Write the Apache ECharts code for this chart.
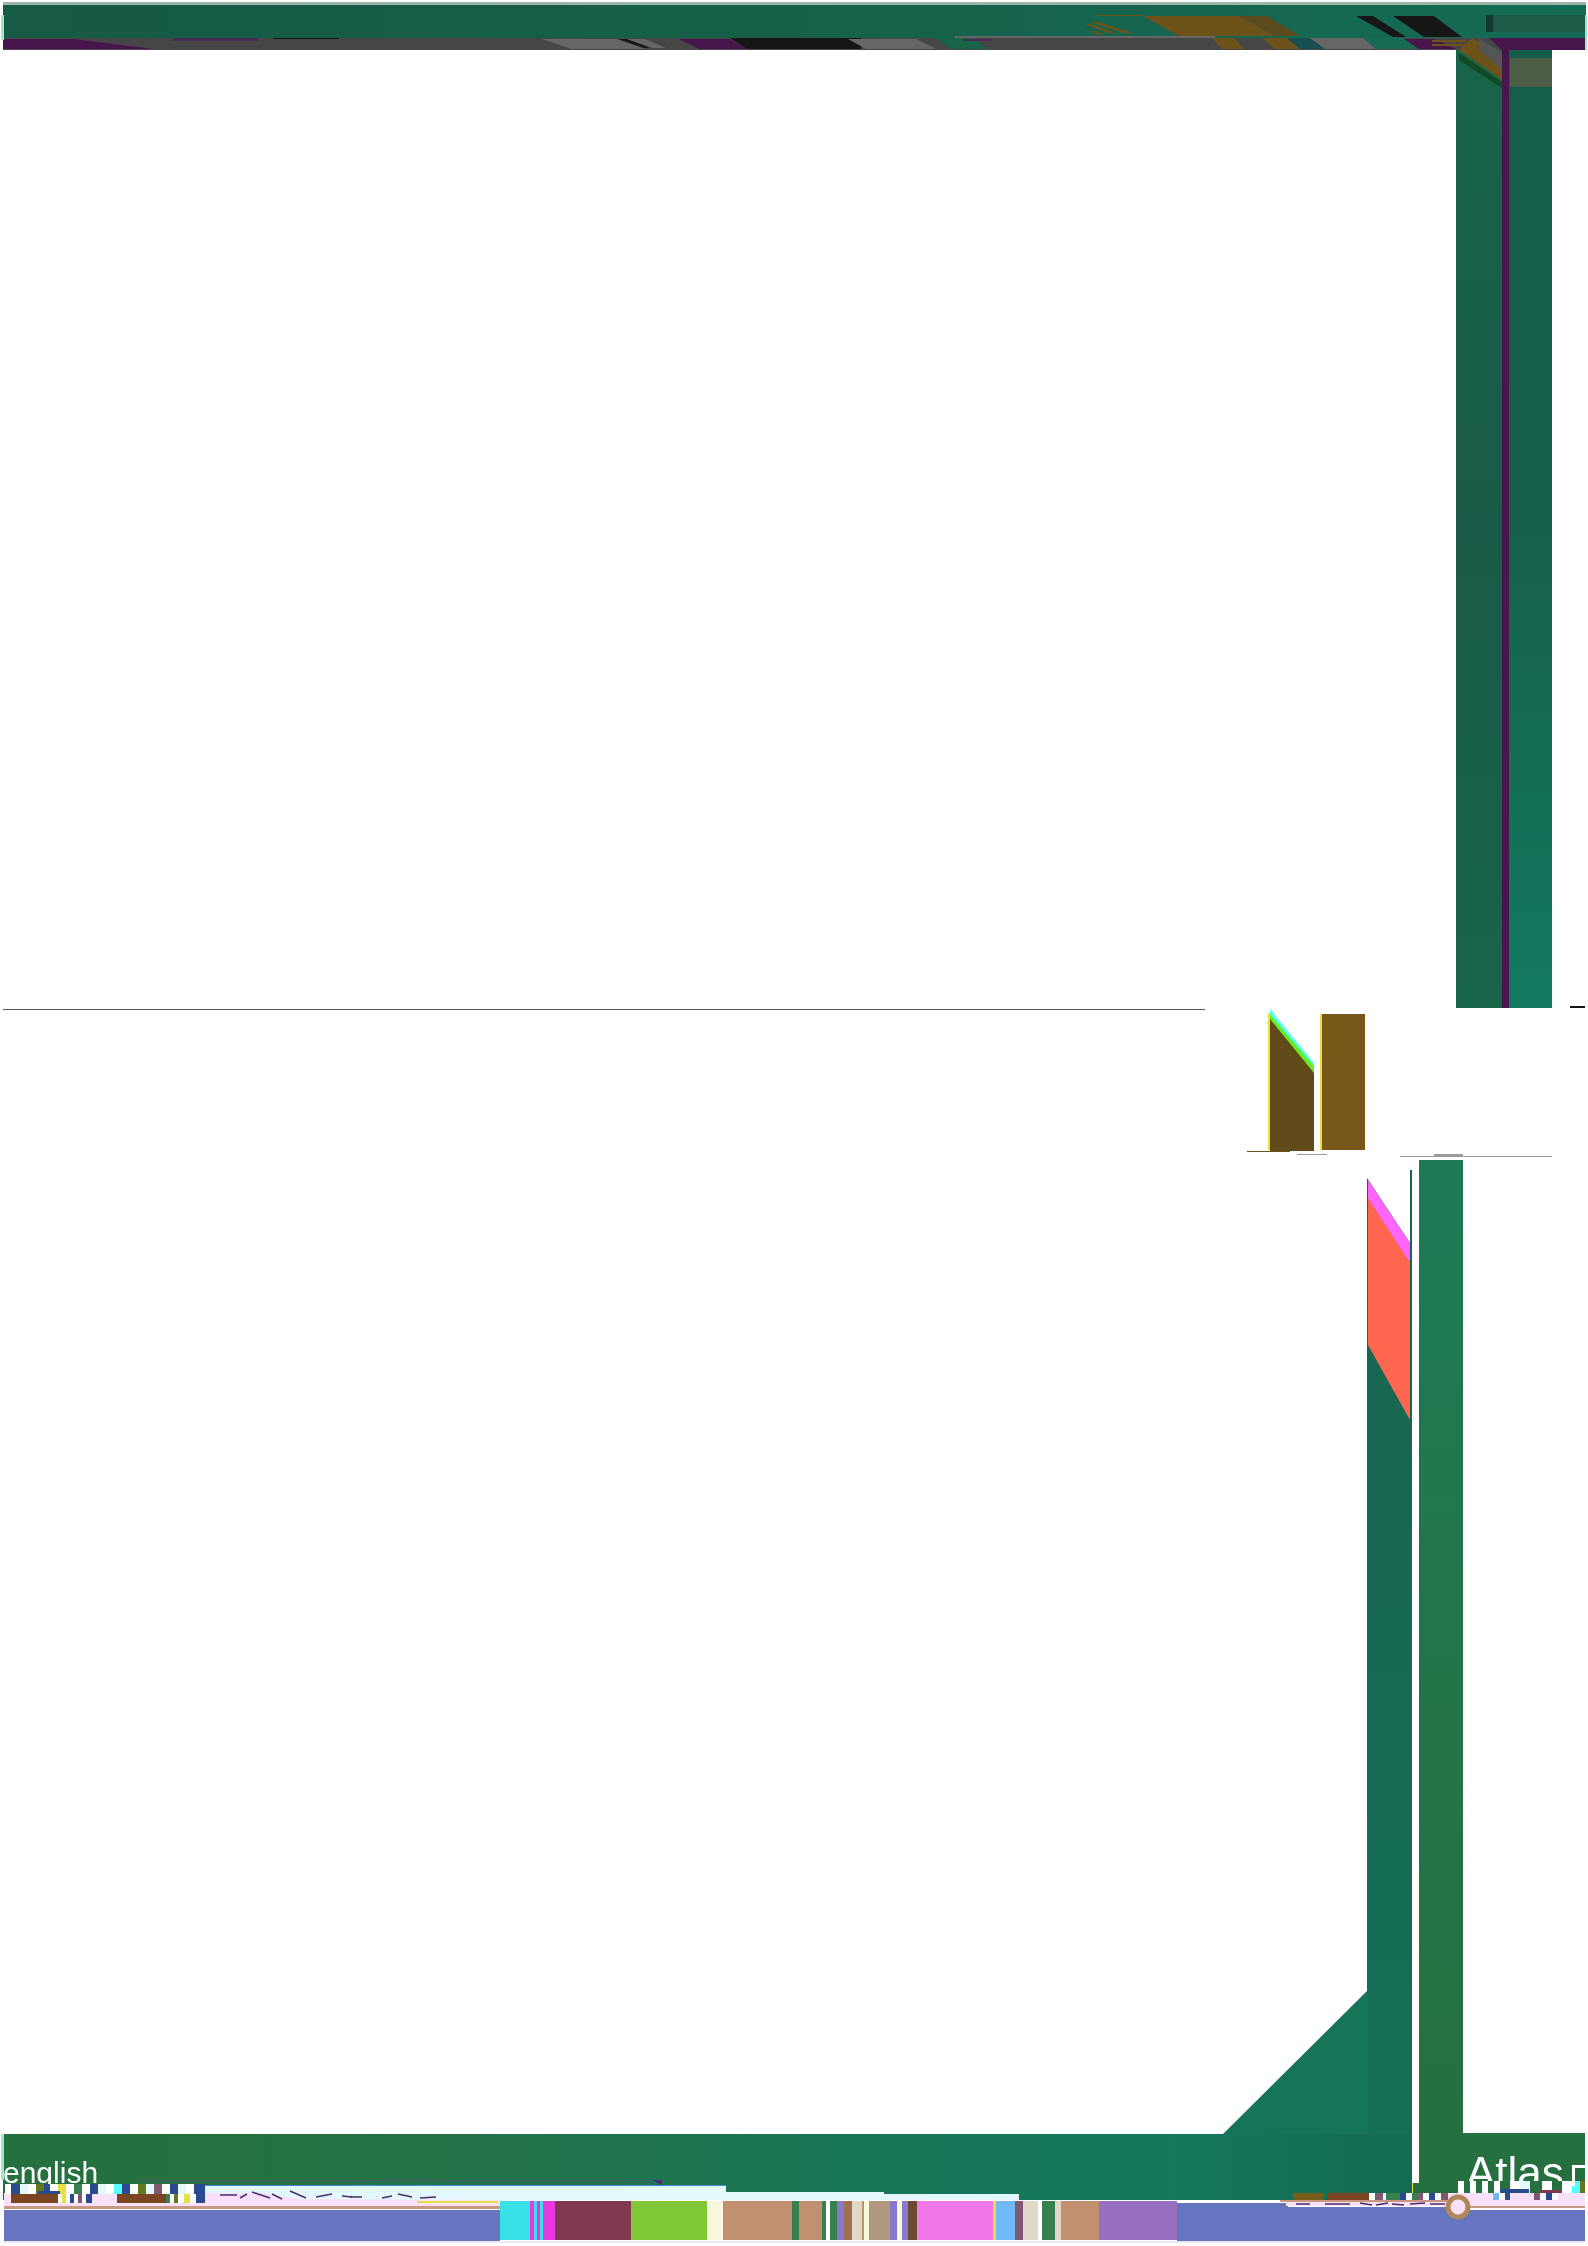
<!DOCTYPE html>
<html><head><meta charset="utf-8">
<script src="https://cdn.jsdelivr.net/npm/echarts@6/dist/echarts.min.js"></script>
<style>html,body{margin:0;padding:0;background:#fff}#c{width:1588px;height:2246px}</style>
</head><body><div id="c"></div>
<script>
// ---- values (axis units) ----
const regionNames = ['topEdge','topGreen','topBand','purpleL','purpleThin','blackThin','grey1','black1','grey2','purple2','black2','black3','grey3','teal1','purpleThin2','greyTop','brown1','brown2','teal2','grey4','green1','purple3','brownS1','brownS2','darkRight','darkBar','brownMain','brownDark','brownThin','brownSt1','brownSt2','brownSt3','blackSlim','blackBig','purpleTop','vLeft','vPurple','vRight','patch','wedgeBrown','wedgeGrey','wedgeDark','line1','dash1','nLeftCyan','nLeftGreen','nLeft','nLeftEdge','nRightEdge','nRight','nBase','nDash','line2','line2thick','colLeft','magenta','orange','diag','colR','botG','botR','gapFill','darkLine','purpleTri','pale1','pale2','pale3','blueLine','pinkL','pinkL2','tanL','blueL','yellow','pinkR','tanR','blueM','blueR','blueR2','tanR2','pinkR3','brownA','brownB','brownC','brownD','pinkR2','baseEdge','mintTL','mintTR','mintBL'];
const regionX = [[3,1586],[3,1586],[3,1586],[3,74,153,3],[173,258],[273,339],[542,617,645,571],[618,627,650,644],[627,645,666,653],[679,730,747,699],[730,861,861,747],[800,845,861,800],[848,916,936,866],[934,974,987,952],[963,992],[955,1215],[1212,1234,1244,1222],[1262,1287,1300,1275],[1287,1310,1325,1300],[1310,1363,1376,1325],[1363,1404,1441,1376],[1404,1434,1456,1419],[1432,1466],[1432,1466],[1493,1585],[1486,1493],[1143,1239,1275,1179],[1239,1267,1300,1275],[1095,1143],[1090,1098,1133,1123],[1084,1090,1116,1108],[1088,1095,1105,1100],[1356,1373,1406,1393],[1393,1434,1462,1424],[1489,1586,1586,1502],[1456,1502],[1502,1509],[1509,1552],[1510,1552],[1472,1502,1502,1459],[1479,1502,1502,1479],[1459,1502,1502,1459],[3,1205],[1570,1585],[1270,1314,1314,1270],[1270,1314,1314,1270],[1270,1314,1314,1270],[1268,1270],[1320,1322],[1322,1365],[1247,1290],[1297,1327],[1400,1552],[1434,1463],[1367,1410,1410,1412,1412,1367],[1368,1410,1410,1368],[1368,1410,1410,1368],[1222,1368,1368],[1419,1463],[3,1412],[1419,1585],[1412,1419],[135,655],[652,662,662],[200,726],[726,884],[884,1019],[200,726],[4,200],[200,260,300,500,500,200],[4,500],[4,500],[417,498],[1450,1585],[1470,1585],[1177,1288],[1288,1450],[1450,1585],[1280,1450],[1286,1450],[1293,1324],[1327,1369],[11,58],[117,166],[1449,1585],[4,1585],[1,4],[1585,1587],[1,4]];
const regionY = [[2,5],[5,38],[38,50],[39,39,49,49],[38,41],[38,39],[39,39,49,49],[39,39,48,48],[39,39,48,48],[39,39,49,49],[38,38,49,49],[39,39,49,49],[39,39,49,49],[38,38,49,49],[39,41],[36,38],[38,38,49,49],[38,38,49,49],[38,38,49,49],[38,38,49,49],[38,38,49,49],[39,39,49,49],[40,42],[44,46],[15,32],[15,32],[16,16,36,36],[16,16,36,36],[15,16],[22,22,33,33],[24,24,33,33],[31,31,35,35],[16,16,37,37],[16,16,37,37],[38,38,50,50],[50,1008],[50,1008],[50,1008],[58,87],[38,55,80,50],[38,53,70,50],[53,82,88,60],[1009,1010],[1006,1008],[1009,1063,1073,1016],[1014,1066,1073,1022],[1019,1073,1151,1151],[1013,1150],[1014,1150],[1014,1150],[1151,1152],[1154,1155],[1156,1157],[1154,1156],[1178,1243,1170,1170,2200,2200],[1180,1243,1263,1200],[1198,1263,1420,1345],[2135,1990,2135],[1160,2134],[2134,2200],[2133,2200],[2183,2200],[2180,2181],[2180,2180,2185],[2185,2200],[2192,2200],[2194,2200],[2185,2186],[2193,2206],[2193,2193,2199,2200,2206,2206],[2206,2209],[2210,2241],[2201,2203],[2200,2206],[2206,2208],[2203,2241],[2207,2241],[2210,2241],[2200,2202],[2202,2206],[2193,2200],[2193,2200],[2194,2203],[2194,2203],[2193,2200],[2241,2243],[15,40],[15,50],[2134,2180]];
const regionFillKey = ['edge','topG','grey','purple','purpleS','black','greyL','black','greyL','purple','black','black','greyL','teal','purpleS','greyM','brown','brown','tealD','greyL','tealL','purple','brown','brown','greenD','greenX','brown','brownD','brown','brown','brown','brown','black','black','purple','vL','purple','vR','patch','brown','greyW','wedge','lineC','black','cyan','lime','brownD2','yellow','yellow','brownR','brown','lineG','lineG','lineG','colL','magenta','orange','diag','colR','botG','green','green','darkLn','purpleT','pale','pale','pale','blueLn','pink','pink','tan','blue','yellow','pink','tan','blue','blue','blue','tan','pink','brownR2','rust','rust','rust','pink','paleB','mint','mint','mint'];

const bandEdges = [500,530,534,537,540,543,548,555,631,707,723,792,799,822,826,830,837,844,852,862,864,869,890,897,902,908,917,993,996,1015,1023,1038,1042,1055,1061,1099,1177];
const bandFillKey = ['cyan2','mag2','cyan2','mag2','cyan2','mag2','mag2','maroon','lime2','cream','tanB','greenB','tanB','greenB','white','greenB','purpB','tanD','greyC','tanB','cream','taupe','purpB','cream','purpB','brownS','pinkB','yellow','skyB','plum','greyC','white','greenB','greyC','tanB','violet'];

const glitchEdges = [5,11,20,28,36,44,50,58,66,74,82,90,98,106,114,122,130,138,146,154,162,170,178,186,194,205];
const glitchFillKey = ['white','navy','pale','white','olive','navy','white','yellow','white','greenB','white','navy','pale','white','cyan','navy','white','olive','pale','plum','white','navy','pale','white','navy'];
const glitchB1 = [58,62,66,70,74,78,82,86,92];
const glitchB1Key = ['white','yellow','white','navy','white','plum','white','navy'];
const glitchB2 = [166,170,174,178,184,190,196,205];
const glitchB2Key = ['greenB','white','olive','white','yellow','white','navy'];
const glitchRight = [1369,1375,1383,1386,1400,1406,1412,1417,1423,1429,1435,1441,1448,1493,1499,1505,1510,1534,1540,1546,1552,1558];
const glitchRightKey = ['white','plum','pale','greenB','navy','white','greenB','plum','white','navy','white','plum','pink','skyB','white','navy','pink','plum','white','navy','white'];
const glitchRight2 = [1458,1464,1470,1476,1482,1488,1494,1500,1510,1520,1530,1542,1552,1562,1572,1580,1585];
const glitchRight2Key = ['white','green','white','green','white','green','white','green','white','pale','green','white','green','white','cyan','olive'];

const blockNames = ['navyR','maroonR','navyL','boxTop','boxLeft','gapYellow'];
const blockX = [[1500,1529],[1539,1561],[38,60],[1572,1586],[1572,1575],[1412,1413]];
const blockY = [[2189,2193],[2190,2193],[2191,2194],[2165,2168],[2165,2186],[2183,2193]];
const blockFillKey = ['navy','maroon','navy','white','white','yellow'];

const dashX0 = [220,240,252,272,290,316,342,350,382,398,420,1296,1325,1360,1376,1392,1410,1430];
const dashX1 = [237,247,270,282,306,332,352,362,392,412,436,1310,1350,1372,1388,1404,1425,1445];
const dashY0 = [2195,2198,2192,2194,2191,2197,2196,2197,2198,2194,2198,2204,2204,2203,2205,2204,2204,2204];
const dashY1 = [2195,2194,2198,2199,2198,2194,2197,2197,2196,2197,2197,2204,2204,2205,2203,2205,2203,2204];

const textLabels = ['english','Atlas'];
const textX = [3,1466];
const textTop = [2160,2154];
const textSize = [30,44];
const ringPoint = [[1458,2207]];

// ---- styles ----
const lin = (stops) => ({type:'linear',x:0,y:0,x2:1,y2:0,colorStops:stops.map((c,i)=>({offset:i/(stops.length-1),color:c}))});
const linV = (stops) => ({type:'linear',x:0,y:0,x2:0,y2:1,colorStops:stops.map((c,i)=>({offset:i/(stops.length-1),color:c}))});
const fills = {
 edge:'#9bb5a9',topG:lin(['#175a46','#165c47','#166049','#15664f','#146b55']),grey:'#464646',purple:'#48154c',purpleS:'#4a2a55',black:'#161616',greyL:'#666666',greyM:'#666666',teal:'#186449',brown:'#6d5319',brownD:'#5a4a1e',tealD:'#175050',tealL:'#176b55',greenD:'#1a5a46',greenX:'#0f3a2c',vL:linV(['#186449','#185a47','#186449']),vR:linV(['#155f4a','#16604b','#127a60']),patch:'#4c5e48',greyW:'#555555',wedge:'#124a25',lineC:'#555555',cyan:'#55ffff',lime:'#66ee22',brownD2:'#614a19',yellow:'#e8e040',brownR:'#775818',lineG:'#999999',colL:linV(['#186450','#166a52','#157058']),magenta:'#ff66ff',orange:'#ff6650',diag:'#167458',colR:linV(['#1d7a55','#26703f']),botG:lin(['#26703f','#25713f','#22724a','#1d7550','#167659','#14785c','#146a52']),green:'#26703f',darkLn:'#4a5a6a',purpleT:'#4a2a80',pale:'#e2f8fa',blueLn:'#4488dd',pink:'#f8e0f8',tan:'#c89880',blue:'#6675c0',brownR2:'#755c18',rust:'#7a4520',cyan2:'#38e0e8',mag2:'#e838e0',maroon:'#803a50',lime2:'#80c835',cream:'#f8f8e0',tanB:'#c09070',greenB:'#388050',purpB:'#8a78c8',tanD:'#a0704f',greyC:'#e0d8c8',taupe:'#b09880',plum:'#805870',brownS:'#6a4a30',pinkB:'#f078e8',skyB:'#70b8f8',violet:'#9870c0',white:'#ffffff',navy:'#2a4a90',olive:'#667722',paleB:'#ece8f8',mint:'#a0e8c8'
};

// ---- drawing through the axes ----
function polyItem(api, xs, ys, fill) {
  const X = xs.length === 2 ? [xs[0], xs[1], xs[1], xs[0]] : xs;
  const Y = ys.length === 2 && xs.length === 2 ? [ys[0], ys[0], ys[1], ys[1]] : ys;
  return {type:'polygon', shape:{points:X.map((x,i)=>api.coord([x,Y[i]]))}, style:{fill:fills[fill]}, silent:true};
}
function stripSeries(edges, keys, y0, y1, z) {
  return {type:'custom', coordinateSystem:'cartesian2d', silent:true, z, clip:false,
    data:keys.map((k,i)=>[edges[i], y0, i]),
    renderItem:(p,api)=>{const i=api.value(2);return polyItem(api,[edges[i],edges[i+1]],[y0,y1],keys[i]);}};
}
function regionSeries(names, xs, ys, keys, z) {
  return {type:'custom',coordinateSystem:'cartesian2d',silent:true,z,clip:false,
    data:names.map((n,i)=>({name:n,value:[xs[i][0],ys[i][0],i]})),
    renderItem:(p,api)=>{const i=api.value(2);return polyItem(api,xs[i],ys[i],keys[i]);}};
}
const chart = echarts.init(document.getElementById('c'), null, {renderer:'canvas'});
chart.setOption({
  animation:false, backgroundColor:'#ffffff',
  grid:{left:0,right:0,top:0,bottom:0,containLabel:false},
  xAxis:{type:'value',min:0,max:1588,show:false},
  yAxis:{type:'value',min:0,max:2246,inverse:true,show:false},
  series:[
    regionSeries(regionNames,regionX,regionY,regionFillKey,2),
    stripSeries(bandEdges,bandFillKey,2201,2240,3),
    {type:'custom',coordinateSystem:'cartesian2d',silent:true,z:4,clip:false,
     data:textLabels.map((t,i)=>({name:t,value:[textX[i],textTop[i],i]})),
     renderItem:(p,api)=>{const i=api.value(2);const c=api.coord([textX[i],textTop[i]]);
       return {type:'text',style:{x:c[0],y:c[1],text:textLabels[i],fill:'#ffffff',font:textSize[i]+'px "Liberation Sans"',align:'left',verticalAlign:'top'},silent:true};}},
    stripSeries(glitchEdges,glitchFillKey,2184,2194,5),
    stripSeries(glitchB1,glitchB1Key,2194,2203,5),
    stripSeries(glitchB2,glitchB2Key,2194,2203,5),
    stripSeries(glitchRight,glitchRightKey,2193,2200,5),
    stripSeries(glitchRight2,glitchRight2Key,2181,2193,5),
    regionSeries(blockNames,blockX,blockY,blockFillKey,6),
    {type:'custom',coordinateSystem:'cartesian2d',silent:true,z:6,clip:false,
     data:dashX0.map((x,i)=>[x,dashY0[i],i]),
     renderItem:(p,api)=>{const i=api.value(2);const a=api.coord([dashX0[i],dashY0[i]]),b=api.coord([dashX1[i],dashY1[i]]);
       return {type:'line',shape:{x1:a[0],y1:a[1],x2:b[0],y2:b[1]},style:{stroke:'#4a2a70',lineWidth:1.5},silent:true};}},
    {type:'scatter',coordinateSystem:'cartesian2d',silent:true,z:7,clip:false,symbol:'circle',symbolSize:20,
     itemStyle:{color:'#f8e0f8',borderColor:'#b08858',borderWidth:5,opacity:1},data:ringPoint}
  ]
});
</script></body></html>
